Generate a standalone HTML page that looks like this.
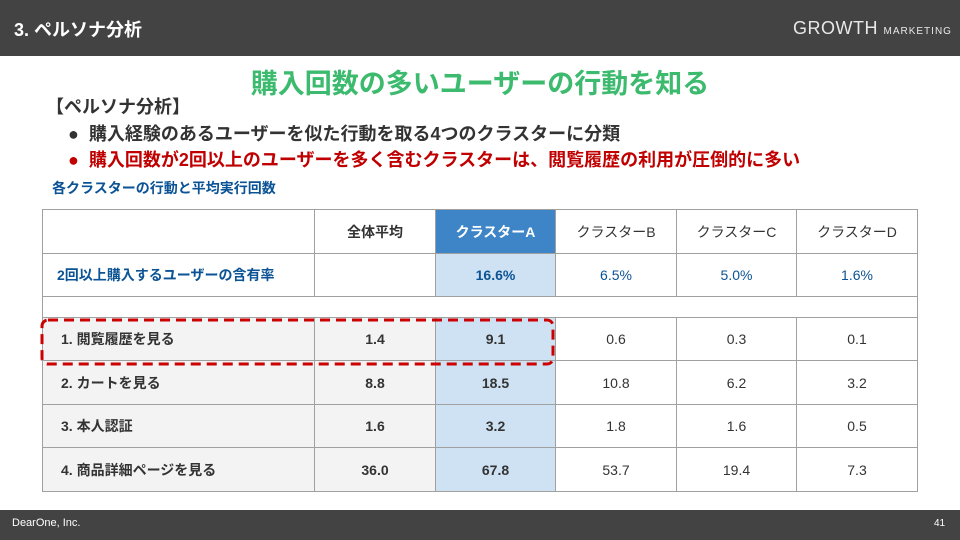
<!DOCTYPE html>
<html><head><meta charset="utf-8"><style>
*{margin:0;padding:0;box-sizing:border-box}
body{width:960px;height:540px;position:relative;background:#fff;font-family:"Liberation Sans","Noto Sans CJK JP",sans-serif;overflow:hidden}
.a{position:absolute;white-space:nowrap}
.c{position:absolute;border:1px solid #a0a0a0;display:flex;align-items:center;justify-content:center;font-size:14px;color:#333}
.l{justify-content:flex-start;padding-left:18px}
.g{background:#f3f3f3}.b{background:#cfe2f3}
.bo{font-weight:bold}
</style></head><body>
<div class="a" style="left:0;top:0;width:960px;height:56px;background:#434343"></div>
<div class="a" style="left:14px;top:16px;color:#fff;font-size:18px;font-weight:bold">3. ペルソナ分析</div>
<div class="a" style="left:793px;top:18px;color:#e8e8e8;font-size:18px;letter-spacing:0.5px">GROWTH <span style="font-size:10px;letter-spacing:1px">MARKETING</span></div>
<div class="a" style="left:0;top:510px;width:960px;height:30px;background:#434343"></div>
<div class="a" style="left:12px;top:517px;color:#fff;font-size:11px">DearOne, Inc.</div>
<div class="a" style="left:934px;top:518px;color:#fff;font-size:10px">41</div>
<div class="a" style="left:0;width:960px;top:62px;text-align:center;color:#3cba6e;font-size:27px;font-weight:bold">購入回数の多いユーザーの行動を知る</div>
<div class="a" style="left:46px;top:93px;color:#333;font-size:18px;font-weight:bold">【ペルソナ分析】</div>
<div class="a" style="left:68px;top:120px;color:#333;font-size:18px;font-weight:bold">●&nbsp; 購入経験のあるユーザーを似た行動を取る4つのクラスターに分類</div>
<div class="a" style="left:68px;top:146px;color:#c00000;font-size:18px;font-weight:bold">●&nbsp; 購入回数が2回以上のユーザーを多く含むクラスターは、閲覧履歴の利用が圧倒的に多い</div>
<div class="a" style="left:52px;top:178px;color:#0b5394;font-size:14px;font-weight:bold">各クラスターの行動と平均実行回数</div>

<div class="c" style="left:42px;top:209px;width:273px;height:45px"></div>
<div class="c bo" style="left:314px;top:209px;width:122px;height:45px">全体平均</div>
<div class="c bo" style="left:435px;top:209px;width:121px;height:45px;background:#3d85c6;color:#fff">クラスターA</div>
<div class="c" style="left:555px;top:209px;width:122px;height:45px">クラスターB</div>
<div class="c" style="left:676px;top:209px;width:121px;height:45px">クラスターC</div>
<div class="c" style="left:796px;top:209px;width:122px;height:45px">クラスターD</div>

<div class="c l bo" style="left:42px;top:253px;width:273px;height:44px;color:#0b5394;padding-left:14px">2回以上購入するユーザーの含有率</div>
<div class="c" style="left:314px;top:253px;width:122px;height:44px"></div>
<div class="c b bo" style="left:435px;top:253px;width:121px;height:44px;color:#0b5394">16.6%</div>
<div class="c" style="left:555px;top:253px;width:122px;height:44px;color:#0b5394">6.5%</div>
<div class="c" style="left:676px;top:253px;width:121px;height:44px;color:#0b5394">5.0%</div>
<div class="c" style="left:796px;top:253px;width:122px;height:44px;color:#0b5394">1.6%</div>

<div class="c" style="left:42px;top:296px;width:876px;height:22px"></div>

<div class="c l g bo" style="left:42px;top:317px;width:273px;height:44px">1. 閲覧履歴を見る</div>
<div class="c g bo" style="left:314px;top:317px;width:122px;height:44px">1.4</div>
<div class="c b bo" style="left:435px;top:317px;width:121px;height:44px">9.1</div>
<div class="c" style="left:555px;top:317px;width:122px;height:44px">0.6</div>
<div class="c" style="left:676px;top:317px;width:121px;height:44px">0.3</div>
<div class="c" style="left:796px;top:317px;width:122px;height:44px">0.1</div>

<div class="c l g bo" style="left:42px;top:360px;width:273px;height:45px">2. カートを見る</div>
<div class="c g bo" style="left:314px;top:360px;width:122px;height:45px">8.8</div>
<div class="c b bo" style="left:435px;top:360px;width:121px;height:45px">18.5</div>
<div class="c" style="left:555px;top:360px;width:122px;height:45px">10.8</div>
<div class="c" style="left:676px;top:360px;width:121px;height:45px">6.2</div>
<div class="c" style="left:796px;top:360px;width:122px;height:45px">3.2</div>

<div class="c l g bo" style="left:42px;top:404px;width:273px;height:44px">3. 本人認証</div>
<div class="c g bo" style="left:314px;top:404px;width:122px;height:44px">1.6</div>
<div class="c b bo" style="left:435px;top:404px;width:121px;height:44px">3.2</div>
<div class="c" style="left:555px;top:404px;width:122px;height:44px">1.8</div>
<div class="c" style="left:676px;top:404px;width:121px;height:44px">1.6</div>
<div class="c" style="left:796px;top:404px;width:122px;height:44px">0.5</div>

<div class="c l g bo" style="left:42px;top:447px;width:273px;height:45px">4. 商品詳細ページを見る</div>
<div class="c g bo" style="left:314px;top:447px;width:122px;height:45px">36.0</div>
<div class="c b bo" style="left:435px;top:447px;width:121px;height:45px">67.8</div>
<div class="c" style="left:555px;top:447px;width:122px;height:45px">53.7</div>
<div class="c" style="left:676px;top:447px;width:121px;height:45px">19.4</div>
<div class="c" style="left:796px;top:447px;width:122px;height:45px">7.3</div>

<svg class="a" style="left:0;top:0" width="960" height="540"><rect x="42" y="320" width="511" height="44" rx="6" fill="none" stroke="#cc0000" stroke-width="3" stroke-dasharray="10,6"/></svg>
</body></html>
